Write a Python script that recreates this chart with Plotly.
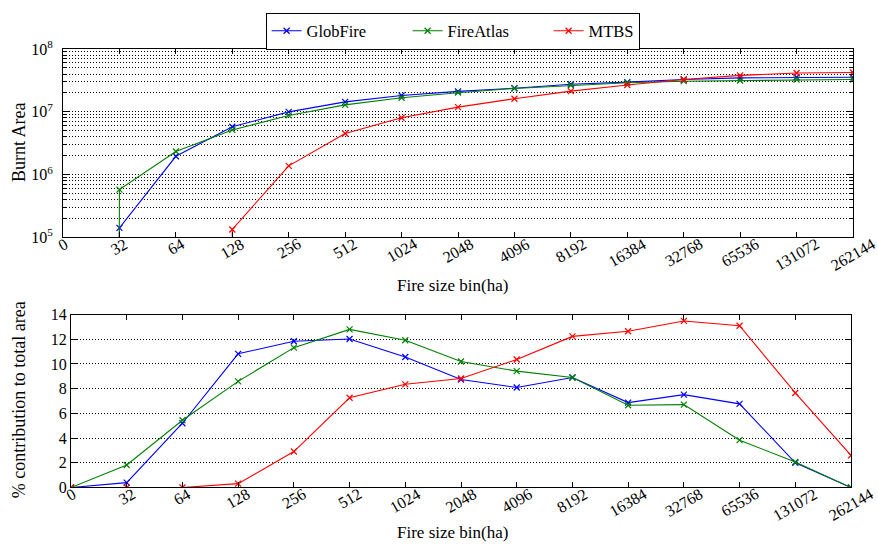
import plotly.graph_objects as go

categories = ["0", "32", "64", "128", "256", "512", "1024", "2048", "4096",
              "8192", "16384", "32768", "65536", "131072", "262144"]

# Cumulative burnt area (top panel); 0 = no area yet
globfire_area = [0, 1.42e5, 1.96e6, 5.8e6, 1.0e7, 1.44e7, 1.82e7, 2.12e7, 2.38e7,
                 2.75e7, 2.98e7, 3.28e7, 3.48e7, 3.56e7, 3.56e7]
fireatlas_area = [0, 5.78e5, 2.34e6, 5.16e6, 8.77e6, 1.29e7, 1.68e7, 2.02e7, 2.36e7,
                  2.65e7, 2.91e7, 3.08e7, 3.16e7, 3.27e7, 3.27e7]
mtbs_area = [0, 0, 0, 1.34e5, 1.38e6, 4.53e6, 8.05e6, 1.19e7, 1.62e7,
             2.14e7, 2.68e7, 3.27e7, 3.81e7, 4.15e7, 4.24e7]

# % contribution to total area (bottom panel)
globfire_pct = [0, 0.39, 5.2, 10.82, 11.84, 12.02, 10.56, 8.74, 8.09,
                8.9, 6.87, 7.52, 6.77, 2.0, 0.0]
fireatlas_pct = [0, 1.82, 5.44, 8.59, 11.32, 12.8, 11.92, 10.2, 9.42,
                 8.9, 6.66, 6.71, 3.83, 2.06, 0.0]
mtbs_pct = [0, 0, 0, 0.31, 2.91, 7.26, 8.35, 8.82, 10.36,
            12.23, 12.65, 13.48, 13.09, 7.65, 2.6]

series_names = ["GlobFire", "FireAtlas", "MTBS"]
series_colors = ["blue", "green", "red"]
legend_widths = [96, 96, None]

FONT = "Liberation Serif"
W, H = 878, 549

x = list(range(len(categories)))


def log_safe(vals):
    # mimic a log axis clipping non-positive values to a tiny number
    return [v if v > 0 else 1e-300 for v in vals]


fig = go.Figure()
areas = [globfire_area, fireatlas_area, mtbs_area]
pcts = [globfire_pct, fireatlas_pct, mtbs_pct]
for name, col, a, p, lw in zip(series_names, series_colors, areas, pcts, legend_widths):
    mk = dict(symbol="x-thin", size=6, line=dict(color=col, width=1.2), color=col)
    top = go.Scatter(x=x, y=log_safe(a), mode="lines+markers", name=name,
                     line=dict(color=col, width=1.1), marker=mk,
                     xaxis="x", yaxis="y", cliponaxis=True)
    if lw:
        top.legendwidth = lw
    fig.add_trace(top)
    fig.add_trace(go.Scatter(x=x, y=p, mode="lines+markers", name=name, showlegend=False,
                             line=dict(color=col, width=1.1), marker=mk,
                             xaxis="x2", yaxis="y2", cliponaxis=True))

# Domains (pixel-derived)
top_x = [63 / W, 853 / W]
top_y = [1 - 235 / H, 1 - 39.5 / H]
bot_x = [71 / W, 851 / W]
bot_y = [1 - 494.5 / H, 1 - 315 / H]

minor_vals = []
for e in range(5, 8):
    for m in range(2, 10):
        minor_vals.append(m * 10 ** e)

GRID_DASH = "1px,2px"
axis_common = dict(showline=True, linecolor="black", linewidth=1, mirror="ticks",
                   ticks="inside", tickcolor="black", zeroline=False,
                   tickfont=dict(family=FONT, size=16, color="black"))

fig.update_layout(
    width=W, height=H,
    margin=dict(l=0, r=0, t=0, b=0),
    paper_bgcolor="white", plot_bgcolor="white",
    font=dict(family=FONT, color="black", size=16),
    showlegend=True,
    legend=dict(orientation="h", x=0.5155, xanchor="center", y=1 - 40 / H, yanchor="bottom",
                bordercolor="black", borderwidth=1, bgcolor="white",
                font=dict(family=FONT, size=16.5, color="black")),
    xaxis=dict(domain=top_x, anchor="y", range=[0, 14], tickmode="array", tickvals=x,
               showticklabels=False, ticklen=5, showgrid=False, **axis_common),
    yaxis=dict(domain=top_y, anchor="x", type="log", range=[5, 8], tickmode="array",
               tickvals=[1e5, 1e6, 1e7, 1e8],
               ticktext=["10<sup>5</sup>", "10<sup>6</sup>", "10<sup>7</sup>", "10<sup>8</sup>"],
               ticklen=6, ticklabelstandoff=6,
               showgrid=True, gridcolor="black", gridwidth=1, griddash=GRID_DASH,
               minor=dict(tickmode="array", tickvals=minor_vals, ticks="inside", ticklen=3,
                          tickcolor="black", showgrid=True, gridcolor="black",
                          gridwidth=1, griddash=GRID_DASH),
               **axis_common),
    xaxis2=dict(domain=bot_x, anchor="y2", range=[0, 14], tickmode="array", tickvals=x,
                showticklabels=False, ticklen=5, showgrid=False, **axis_common),
    yaxis2=dict(domain=bot_y, anchor="x2", range=[0, 14], tickmode="array",
                tickvals=list(range(0, 15, 2)), ticklen=6, ticklabelstandoff=0, showgrid=True,
                gridcolor="black", gridwidth=1, griddash=GRID_DASH, **axis_common),
)

annotations = []
# rotated category tick labels, centred under each tick (matplotlib style)
for xr, yr in (("x", "y domain"), ("x2", "y2 domain")):
    for i, lab in enumerate(categories):
        annotations.append(dict(x=i, y=0, xref=xr, yref=yr, text=lab, showarrow=False,
                                textangle=-30, xanchor="center", yanchor="top",
                                xshift=0, yshift=5,
                                font=dict(family=FONT, size=16, color="black")))
# axis titles
annotations.append(dict(x=0.5155, y=1 - 285 / H, xref="paper", yref="paper",
                        text="Fire size bin(ha)", showarrow=False, xanchor="center",
                        yanchor="middle", font=dict(family=FONT, size=17)))
annotations.append(dict(x=0.5155, y=1 - 541 / H, xref="paper", yref="paper",
                        text="Fire size bin(ha)", showarrow=False, xanchor="center",
                        yanchor="middle", font=dict(family=FONT, size=17)))
annotations.append(dict(x=19 / W, y=1 - 137 / H, xref="paper", yref="paper",
                        text="Burnt Area", showarrow=False, textangle=-90,
                        xanchor="center", yanchor="middle", font=dict(family=FONT, size=18)))
annotations.append(dict(x=19 / W, y=1 - 404 / H, xref="paper", yref="paper",
                        text="% contribution to total area", showarrow=False, textangle=-90,
                        xanchor="center", yanchor="middle", font=dict(family=FONT, size=18)))
fig.update_layout(annotations=annotations)

fig.write_html("out.html", config={"displayModeBar": False},
               post_script="document.body.style.margin='0';document.body.style.overflow='hidden';")
